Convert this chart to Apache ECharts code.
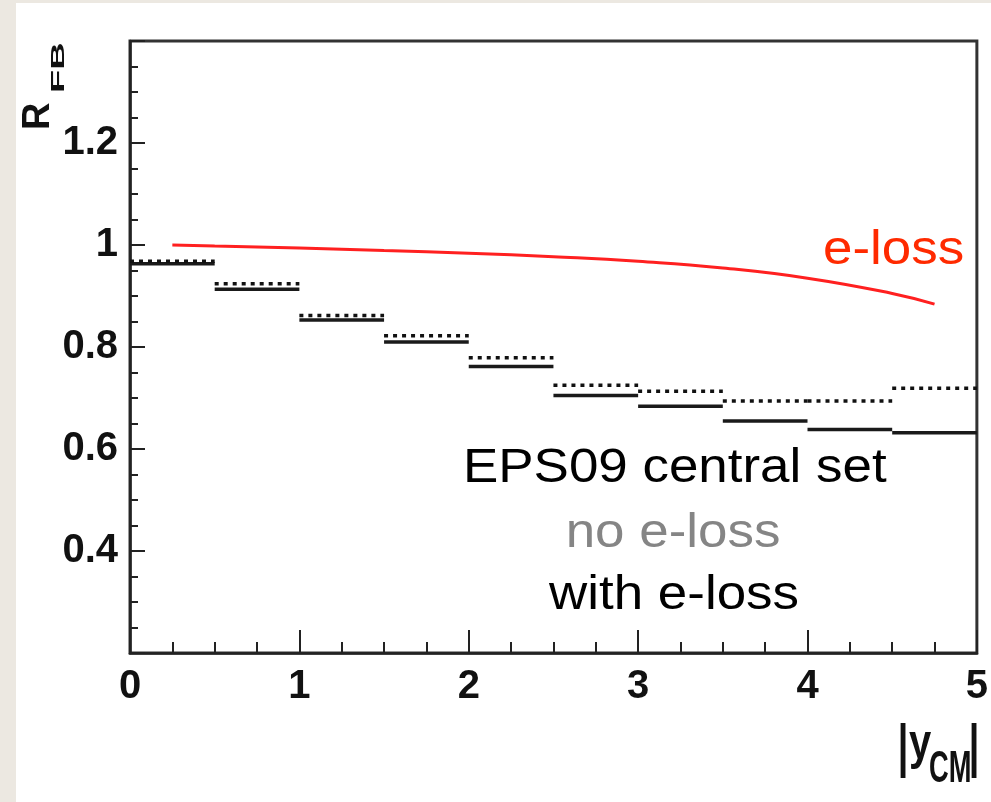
<!DOCTYPE html>
<html>
<head>
<meta charset="utf-8">
<script src="https://cdn.jsdelivr.net/npm/echarts@6/dist/echarts.min.js"></script>
<style>
  html, body { margin: 0; padding: 0; background: #ece8e1; }
  #chart { position: absolute; left: 16px; top: 3px; width: 975px; height: 799px; background: #ffffff; }
</style>
</head>
<body>
<div id="chart"></div>
<script>
// Bin edges in |y_CM| (bins of width 0.5)
const binEdges = [0, 0.5, 1, 1.5, 2, 2.5, 3, 3.5, 4, 4.5, 5];
// R_FB per bin, EPS09 central set without energy loss (dotted)
const noLoss = [0.968, 0.924, 0.862, 0.822, 0.779, 0.725, 0.713, 0.694, 0.694, 0.719];
// R_FB per bin, EPS09 central set with energy loss (solid)
const withLoss = [0.963, 0.913, 0.853, 0.810, 0.762, 0.705, 0.684, 0.655, 0.638, 0.632];
// Energy-loss only curve
const eLossX = [0.25, 0.5, 1, 1.5, 2, 2.5, 3, 3.5, 4, 4.5, 4.75];
const eLossY = [1.000, 0.998, 0.994, 0.989, 0.984, 0.977, 0.968, 0.955, 0.935, 0.905, 0.884];
// Axis tick values
const xTicks = [0, 1, 2, 3, 4, 5];
const yTicks = [0.4, 0.6, 0.8, 1, 1.2];

const AXIS_FONT = '"Liberation Sans", Arial, sans-serif';
const TEXT_FONT = '"Liberation Sans", Arial, sans-serif';

function binRows(vals) {
  return vals.map((v, i) => [binEdges[i], binEdges[i + 1], v]);
}

function stepRenderer(stroke, width, dash) {
  return function (params, api) {
    const v = api.value(2);
    const p0 = api.coord([api.value(0), v]);
    const p1 = api.coord([api.value(1), v]);
    return {
      type: 'line',
      shape: { x1: p0[0], y1: p0[1], x2: p1[0], y2: p1[1] },
      style: { stroke: stroke, lineWidth: width, lineDash: dash || null }
    };
  };
}

const chart = echarts.init(document.getElementById('chart'), null, { renderer: 'canvas' });

const option = {
  animation: false,
  backgroundColor: '#ffffff',
  grid: { left: 114, right: 13, top: 38, bottom: 149, show: true, borderColor: '#333', borderWidth: 3 },
  xAxis: {
    type: 'value', min: 0, max: 5, interval: 1,
    axisLine: { show: true, lineStyle: { color: '#222', width: 2.5 } },
    axisTick: { show: true, inside: true, length: 23, lineStyle: { color: '#222', width: 2 } },
    minorTick: { show: true, splitNumber: 4, length: 11, lineStyle: { color: '#222', width: 2 } },
    splitLine: { show: false },
    axisLabel: {
      margin: 14, color: '#111', fontFamily: AXIS_FONT, fontWeight: 'bold', fontSize: 40,
      formatter: v => (xTicks.indexOf(v) >= 0 ? String(v) : '')
    }
  },
  yAxis: {
    type: 'value', min: 0.2, max: 1.4, interval: 0.2,
    axisLine: { show: true, lineStyle: { color: '#222', width: 2.5 } },
    axisTick: { show: true, inside: true, length: 15, lineStyle: { color: '#222', width: 2 } },
    minorTick: { show: true, splitNumber: 4, length: 8, lineStyle: { color: '#222', width: 2 } },
    splitLine: { show: false },
    axisLabel: {
      margin: 12, color: '#111', fontFamily: AXIS_FONT, fontWeight: 'bold', fontSize: 40,
      formatter: v => {
        const r = Math.round(v * 10) / 10;
        return yTicks.indexOf(r) >= 0 ? String(r) : '';
      }
    }
  },
  series: [
    {
      name: 'with e-loss', type: 'custom', data: binRows(withLoss),
      encode: { x: [0, 1], y: 2 }, renderItem: stepRenderer('#1a1a1a', 3.5), z: 3
    },
    {
      name: 'no e-loss', type: 'custom', data: binRows(noLoss),
      encode: { x: [0, 1], y: 2 }, renderItem: stepRenderer('#111111', 3.5, [4, 5]), z: 4
    },
    {
      name: 'e-loss', type: 'line', smooth: true, symbol: 'none',
      data: eLossX.map((x, i) => [x, eLossY[i]]),
      lineStyle: { color: '#ff2020', width: 3 }, z: 5
    }
  ],
  graphic: [
    // y-axis title R_FB (rotated)
    { type: 'text', x: 23, y: 127, rotation: Math.PI / 2,
      style: { text: 'R', font: 'bold 38px ' + TEXT_FONT, fill: '#111', align: 'left', verticalAlign: 'middle' } },
    { type: 'text', x: 43, y: 90, rotation: Math.PI / 2, scaleX: 2.0,
      style: { text: 'FB', font: 'bold 19px ' + TEXT_FONT, fill: '#111', align: 'left', verticalAlign: 'middle' } },
    // x-axis title |y_CM|
    { type: 'text', x: 887, y: 746,
      style: { text: '|', font: '60px ' + AXIS_FONT, fill: '#111', align: 'center', verticalAlign: 'middle' } },
    { type: 'text', x: 893, y: 742, scaleX: 0.8,
      style: { text: 'y', font: 'bold 50px ' + AXIS_FONT, fill: '#111', align: 'left', verticalAlign: 'middle' } },
    { type: 'text', x: 913, y: 767, scaleX: 0.62,
      style: { text: 'CM', font: 'bold 44px ' + AXIS_FONT, fill: '#111', align: 'left', verticalAlign: 'middle' } },
    { type: 'text', x: 958, y: 746,
      style: { text: '|', font: '60px ' + AXIS_FONT, fill: '#111', align: 'center', verticalAlign: 'middle' } },
    // annotations
    { type: 'text', x: 807, y: 247, scaleX: 1.08,
      style: { text: 'e-loss', font: '49px ' + TEXT_FONT, fill: '#ff2a00', align: 'left', verticalAlign: 'middle' } },
    { type: 'text', x: 447, y: 465, scaleX: 1.08,
      style: { text: 'EPS09 central set', font: '49px ' + TEXT_FONT, fill: '#000', align: 'left', verticalAlign: 'middle' } },
    { type: 'text', x: 657, y: 530, scaleX: 1.08,
      style: { text: 'no e-loss', font: '49px ' + TEXT_FONT, fill: '#858585', align: 'center', verticalAlign: 'middle' } },
    { type: 'text', x: 658, y: 592, scaleX: 1.08,
      style: { text: 'with e-loss', font: '49px ' + TEXT_FONT, fill: '#000', align: 'center', verticalAlign: 'middle' } }
  ]
};

chart.setOption(option);
</script>
</body>
</html>
